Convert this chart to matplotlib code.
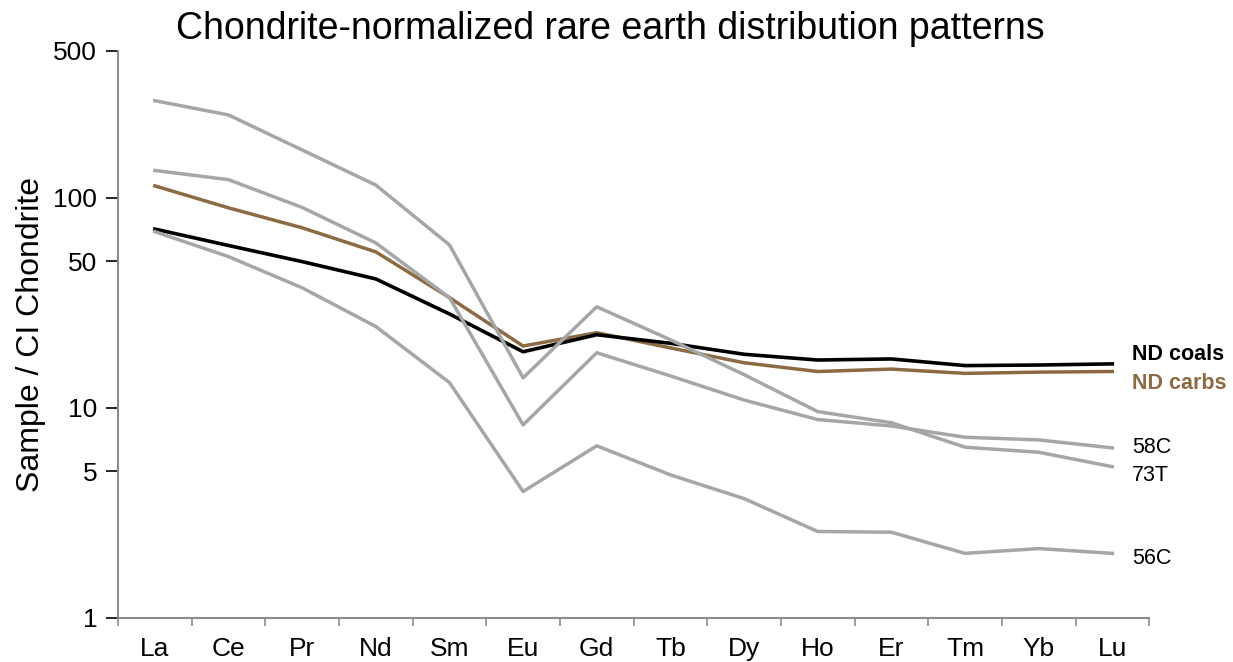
import numpy as np
import matplotlib.pyplot as plt
from matplotlib.ticker import FixedLocator, NullLocator

plt.rcParams['font.family'] = ['Liberation Sans', 'DejaVu Sans']

# REE order
elements = ['La', 'Ce', 'Pr', 'Nd', 'Sm', 'Eu', 'Gd', 'Tb', 'Dy', 'Ho', 'Er', 'Tm', 'Yb', 'Lu']

# chondrite-normalized values
nd_coals = [71, 59.3, 49.7, 41.1, 28, 18.5, 22.3, 20.3, 18.0, 16.9, 17.1, 15.9, 16.0, 16.2]
nd_carbs = [114, 89.6, 72, 55.3, 33.5, 19.7, 22.8, 19.3, 16.4, 14.9, 15.3, 14.6, 14.8, 14.9]
s73T = [290, 248, 169, 115, 59.7, 13.9, 30.3, 21.1, 14.4, 9.6, 8.5, 6.5, 6.15, 5.25]
s58C = [135, 122, 90, 61, 33.5, 8.3, 18.3, 14.2, 10.9, 8.8, 8.2, 7.25, 7.04, 6.45]
s56C = [69, 52.5, 37.3, 24.4, 13.2, 4.0, 6.6, 4.8, 3.7, 2.58, 2.56, 2.03, 2.14, 2.03]

y_ticks = [1, 5, 10, 50, 100, 500]

grey = '#A6A6A6'
brown = '#8C6A43'
x = np.arange(len(elements))

fig = plt.figure(figsize=(12.33, 6.62), dpi=100)
ax = fig.add_axes([0.0957, 0.0665, 0.8363, 0.8565])

ax.plot(x, nd_carbs, color=brown, lw=2.5, zorder=2)
ax.plot(x, nd_coals, color='black', lw=2.6, zorder=3)
for s in [s73T, s58C, s56C]:
    ax.plot(x, s, color=grey, lw=2.5, zorder=4)

ax.set_yscale('log')
ax.set_ylim(1, 500)
ax.set_xlim(-0.5, len(elements) - 0.5)

ax.yaxis.set_major_locator(FixedLocator(y_ticks))
ax.yaxis.set_minor_locator(NullLocator())
ax.set_yticklabels([str(v) for v in y_ticks])
ax.tick_params(axis='y', which='major', direction='out', length=9, width=1.2,
               color='black', labelsize=19, pad=6)

ax.set_xticks(x)
ax.set_xticklabels(elements)
ax.set_xticks(np.arange(len(elements) + 1) - 0.5, minor=True)
ax.tick_params(axis='x', which='major', length=0, labelsize=19, pad=14)
ax.tick_params(axis='x', which='minor', direction='out', length=6, width=1.2, color='#8C8C8C')

for side in ['top', 'right']:
    ax.spines[side].set_visible(False)
for side in ['left', 'bottom']:
    ax.spines[side].set_color('#8C8C8C')
    ax.spines[side].set_linewidth(1.5)

ax.set_ylabel('Sample / CI Chondrite', fontsize=23, labelpad=5)

fig.text(0.495, 0.956, 'Chondrite-normalized rare earth distribution patterns',
         ha='center', va='center', fontsize=27)

# series labels at the right end
labels = [('ND coals', nd_coals, 'black', 'bold', 7),
          ('ND carbs', nd_carbs, brown, 'bold', -8.5),
          ('58C', s58C, 'black', 'normal', 0),
          ('73T', s73T, 'black', 'normal', -6.5),
          ('56C', s56C, 'black', 'normal', -3.6)]
for name, vals, col, weight, dy in labels:
    ax.annotate(name, xy=(x[-1], vals[-1]), xytext=(14, dy), textcoords='offset points',
                color=col, fontweight=weight, fontsize=15.5, va='center', ha='left',
                annotation_clip=False)

fig.savefig('out.png', dpi=100)
